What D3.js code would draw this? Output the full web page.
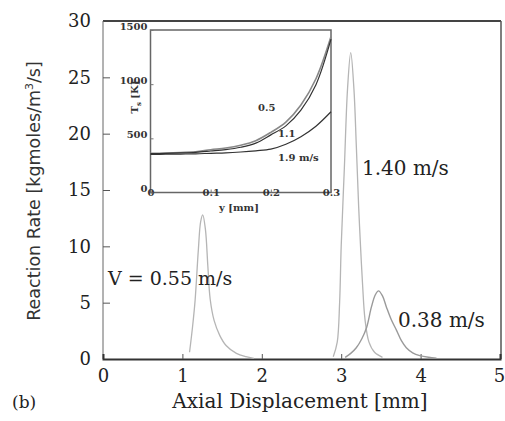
<!DOCTYPE html>
<html>
<head>
<meta charset="utf-8">
<script src="https://cdn.jsdelivr.net/npm/d3@7"></script>
<style>
  body { margin: 0; background: #fff; }
  svg { display: block; }
</style>
</head>
<body>
<svg id="chart" width="505" height="421"></svg>
<script>
// main chart data (reaction rate vs axial displacement)
var xTicks = [0, 1, 2, 3, 4, 5];
var yTicks = [0, 5, 10, 15, 20, 25, 30];

var v055X = [1.09, 1.13, 1.16, 1.20, 1.23, 1.256, 1.29, 1.32, 1.35, 1.40, 1.47, 1.55, 1.68, 1.80, 1.90];
var v055Y = [0.6, 3.0, 5.2, 9.6, 12.2, 12.8, 11.5, 8.3, 5.3, 3.4, 2.1, 1.2, 0.5, 0.2, 0.05];

var v140X = [2.90, 2.95, 2.98, 3.00, 3.04, 3.08, 3.12, 3.16, 3.19, 3.22, 3.24, 3.27, 3.30, 3.35, 3.42, 3.52];
var v140Y = [0.2, 1.5, 5.0, 10.0, 17.0, 24.0, 27.2, 24.0, 19.0, 13.5, 10.5, 6.5, 3.5, 1.5, 0.6, 0.15];

var v038X = [3.05, 3.12, 3.19, 3.26, 3.32, 3.38, 3.43, 3.47, 3.52, 3.57, 3.63, 3.70, 3.76, 3.82, 3.90, 3.99, 4.10, 4.20];
var v038Y = [0.15, 0.5, 1.0, 1.8, 2.8, 4.6, 5.7, 6.05, 5.6, 4.6, 3.5, 2.5, 1.6, 1.0, 0.55, 0.3, 0.15, 0.08];

// inset data (surface temperature vs y)
var insetX = [0, 0.025, 0.05, 0.075, 0.1, 0.125, 0.15, 0.175, 0.2, 0.225, 0.25, 0.275, 0.3];
var ts05 = [361, 364, 369, 376, 395, 410, 436, 478, 555, 650, 808, 1050, 1440];
var ts11 = [358, 361, 365, 371, 383, 396, 418, 456, 532, 615, 760, 995, 1415];
var ts19 = [352, 353, 355, 357, 362, 366, 374, 385, 400, 445, 515, 612, 745];
var insetXTicks = [0, 0.1, 0.2, 0.3];
var insetYTicks = [0, 500, 1000, 1500];

var svg = d3.select("#chart");
var serif = "'DejaVu Serif', serif";

var x = d3.scaleLinear().domain([0, 5]).range([103, 500]);
var y = d3.scaleLinear().domain([0, 30]).range([359, 21]);

// frame
svg.append("line").attr("x1", 103).attr("x2", 501).attr("y1", 21).attr("y2", 21)
    .attr("stroke", "#444").attr("stroke-width", 2);
svg.append("line").attr("x1", 501).attr("x2", 501).attr("y1", 21).attr("y2", 359)
    .attr("stroke", "#555").attr("stroke-width", 1.5);
svg.append("line").attr("x1", 103).attr("x2", 103).attr("y1", 21).attr("y2", 359)
    .attr("stroke", "#666").attr("stroke-width", 1);

// axes
var xAxis = svg.append("g").attr("transform", "translate(0,359)")
    .call(d3.axisBottom(x).tickValues(xTicks).tickSize(-5).tickPadding(10).tickFormat(d3.format("d")));
var yAxis = svg.append("g").attr("transform", "translate(103,0)")
    .call(d3.axisLeft(y).tickValues(yTicks).tickSize(-7).tickPadding(12).tickFormat(d3.format("d")));
xAxis.select(".domain").attr("stroke", "#333").attr("stroke-width", 2);
yAxis.select(".domain").remove();
[xAxis, yAxis].forEach(function(a) {
    a.selectAll(".tick line").attr("stroke", "#555");
    a.selectAll(".tick text").attr("font-family", serif).attr("font-size", 18).attr("fill", "#222");
});
xAxis.selectAll(".tick line").filter(function(d) { return d == 0 || d == 5; }).remove();
xAxis.selectAll(".tick text").filter(function(d) { return d == 5; }).attr("dx", -1);
yAxis.selectAll(".tick line").filter(function(d) { return d == 0 || d == 30; }).remove();

// curves
var line = d3.line().curve(d3.curveCatmullRom);
function drawCurve(xs, ys, color, w) {
    var pts = xs.map(function(v, i) { return [x(v), y(ys[i])]; });
    svg.append("path").attr("d", line(pts)).attr("fill", "none")
        .attr("stroke", color).attr("stroke-width", w);
}
drawCurve(v055X, v055Y, "#b5b5b5", 1.3);
drawCurve(v140X, v140Y, "#b5b5b5", 1.3);
drawCurve(v038X, v038Y, "#9a9a9a", 1.4);

// labels
svg.append("text").attr("x", 108).attr("y", 285).text("V = 0.55 m/s")
    .attr("font-family", serif).attr("font-size", 19).attr("fill", "#222");
svg.append("text").attr("x", 362).attr("y", 175).text("1.40 m/s")
    .attr("font-family", serif).attr("font-size", 20).attr("fill", "#222");
svg.append("text").attr("x", 398).attr("y", 327).text("0.38 m/s")
    .attr("font-family", serif).attr("font-size", 20).attr("fill", "#222");
svg.append("text").attr("x", 300).attr("y", 408).attr("text-anchor", "middle")
    .text("Axial Displacement [mm]")
    .attr("font-family", serif).attr("font-size", 20).attr("fill", "#222");
svg.append("text").attr("x", 12).attr("y", 408).text("(b)")
    .attr("font-family", serif).attr("font-size", 17).attr("fill", "#222");
var yl = svg.append("text").attr("transform", "translate(40,191) rotate(-90)")
    .attr("text-anchor", "middle")
    .attr("font-family", "'DejaVu Sans', sans-serif").attr("font-size", 17.5).attr("fill", "#333");
yl.append("tspan").text("Reaction Rate [kgmoles/m");
yl.append("tspan").attr("dy", -7).attr("font-size", 11).text("3");
yl.append("tspan").attr("dy", 7).text("/s]");

// inset
var ix = d3.scaleLinear().domain([0, 0.3]).range([150.5, 331]);
var iy = d3.scaleLinear().domain([0, 1500]).range([192.5, 30]);
svg.append("rect").attr("x", 150.5).attr("y", 30).attr("width", 180.5).attr("height", 162.5)
    .attr("fill", "#fff").attr("stroke", "#666").attr("stroke-width", 1.5);

var ixAxis = svg.append("g").attr("transform", "translate(0,192.5)")
    .call(d3.axisBottom(ix).tickValues(insetXTicks).tickSize(-3).tickPadding(0)
        .tickFormat(function(d) { return d == 0 ? "0" : d3.format(".1f")(d); }));
var iyAxis = svg.append("g").attr("transform", "translate(150.5,0)")
    .call(d3.axisLeft(iy).tickValues(insetYTicks).tickSize(-3).tickPadding(3).tickFormat(d3.format("d")));
[ixAxis, iyAxis].forEach(function(a) {
    a.select(".domain").remove();
    a.selectAll(".tick line").attr("stroke", "#777");
    a.selectAll(".tick text").attr("font-family", serif).attr("font-size", 10)
        .attr("font-weight", "bold").attr("fill", "#333");
});
ixAxis.selectAll(".tick text").attr("y", 0).attr("dy", "0.35em");
iyAxis.selectAll(".tick text").attr("dy", "-0.1em");

var iline = d3.line().curve(d3.curveCatmullRom);
function drawInset(ys, color, w) {
    var pts = insetX.map(function(v, i) { return [ix(v), iy(ys[i])]; });
    svg.append("path").attr("d", iline(pts)).attr("fill", "none")
        .attr("stroke", color).attr("stroke-width", w);
}
drawInset(ts05, "#888", 1.6);
drawInset(ts11, "#333", 1.2);
drawInset(ts19, "#333", 1.2);

function insetText(tx, ty, s) {
    svg.append("text").attr("x", tx).attr("y", ty).text(s)
        .attr("font-family", serif).attr("font-size", 10).attr("font-weight", "bold").attr("fill", "#333");
}
insetText(258, 111, "0.5");
insetText(278, 137, "1.1");
insetText(278, 161, "1.9 m/s");
insetText(219, 211, "y [mm]");
var til = svg.append("text").attr("transform", "translate(138,97) rotate(-90)")
    .attr("text-anchor", "middle").attr("font-family", serif).attr("font-size", 10)
    .attr("font-weight", "bold").attr("fill", "#333");
til.append("tspan").text("T");
til.append("tspan").attr("dy", 3).attr("font-size", 7).text("s");
til.append("tspan").attr("dy", -3).text(" [K]");
</script>
</body>
</html>
